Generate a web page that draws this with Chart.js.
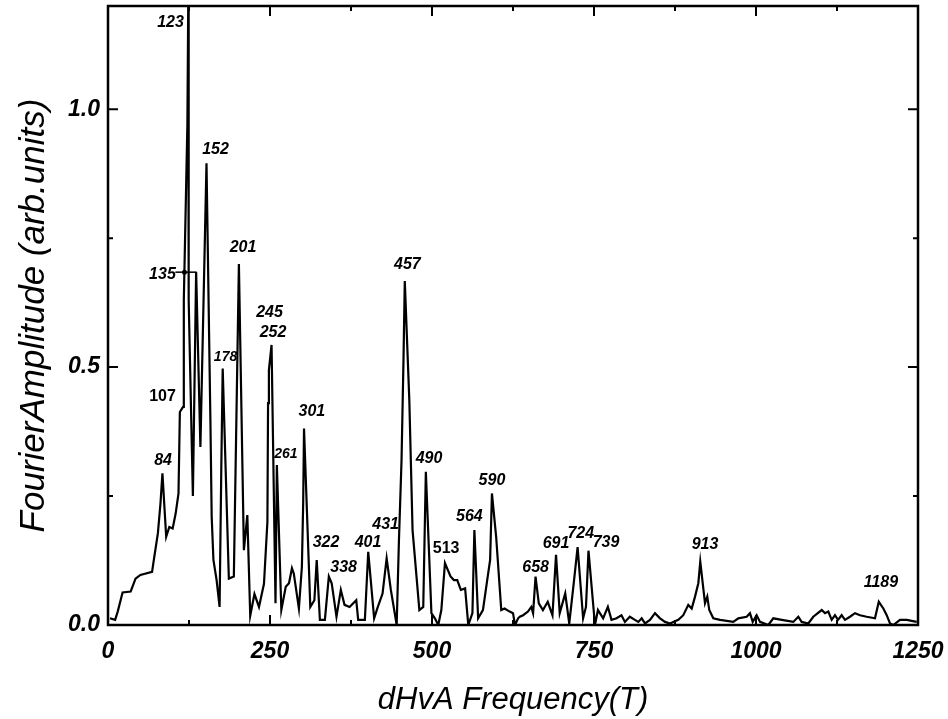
<!DOCTYPE html>
<html>
<head>
<meta charset="utf-8">
<title>dHvA Fourier spectrum</title>
<script src="https://cdn.jsdelivr.net/npm/chart.js@4.4.1/dist/chart.umd.min.js"></script>
<style>
  body { margin: 0; background: #fff; }
  canvas { display: block; }
</style>
</head>
<body>
<canvas id="fft" width="948" height="719"></canvas>
<script>
/*- DATA
-----------------------------------------------------------------------*/
const freqs = [
  3, 11, 15, 22.5, 35, 42.5, 50, 68, 70, 77, 81, 84, 89.8, 94.6, 99.8, 104.4, 108.8, 110.9, 115.8, 117,
  122.5, 123.8, 124.5, 131, 136, 142.6, 152, 158, 160, 162.7, 167.6, 172.2, 174.8, 177, 186.5, 194.2,
  202, 209.7, 215, 219.5, 226, 233, 240.7, 246, 247, 248.3, 252.4, 258.5, 260.6, 267.5, 274.3, 279.3,
  283.9, 286.7, 294.6, 299.2, 301.2, 302.5, 312.2, 318.5, 322.1, 327, 334.7, 340.8, 345.2, 352.6, 359.3,
  365, 372.8, 383.1, 386.1, 396.4, 401.6, 410.7, 416.4, 423.7, 430, 436.5, 445.5, 449, 453, 456, 458,
  465, 470, 480.5, 486.5, 490.5, 499.1, 504.4, 509.7, 514.4, 520, 528.6, 533.8, 539, 544.5, 551.1, 556,
  562.4, 565.4, 571.2, 578.6, 585.2, 589.7, 592.5, 599, 606.9, 612, 619.9, 625, 628.1, 632.9, 635.5,
  640.6, 648.1, 653.2, 656, 659.8, 664.8, 671.2, 678.6, 685.9, 691.4, 697.1, 705.6, 711.8, 719, 724.7,
  733.2, 737.6, 741.5, 751.5, 756.1, 764.1, 771.4, 777, 784.8, 792.4, 797.7, 805.3, 813.1, 818.4, 823.6,
  828.7, 836.4, 844.1, 851.9, 859.6, 867.3, 872.4, 880.1, 887.8, 895.5, 900.8, 905.9, 911, 914, 921.3,
  924.8, 927.9, 934.1, 944.4, 965, 972.7, 985.6, 990.7, 994.9, 1001, 1006.2, 1019, 1026.7, 1039.7,
  1057.6, 1065.3, 1070.5, 1080.7, 1088.4, 1101.4, 1106.5, 1111.6, 1116.8, 1121.9, 1126.5, 1132.2,
  1137.3, 1145, 1152.8, 1160.5, 1170.8, 1183.6, 1189.5, 1196.5, 1201.7, 1206.8, 1211.9, 1222.2, 1232.6, 1248
];
const amps = [
  0.013, 0.01, 0.026, 0.063, 0.065, 0.09, 0.097, 0.103, 0.12, 0.178, 0.236, 0.294, 0.171, 0.19, 0.187, 0.216, 0.255, 0.413, 0.423, 0.63,
  0.97, 1.2, 0.63, 0.25, 0.685, 0.345, 0.895, 0.4, 0.21, 0.126, 0.087, 0.035, 0.3, 0.497, 0.09, 0.094,
  0.70, 0.145, 0.213, 0.018, 0.06, 0.035, 0.08, 0.2, 0.43, 0.494, 0.543, 0.042, 0.31, 0.029, 0.074, 0.081,
  0.11, 0.1, 0.032, 0.113, 0.236, 0.381, 0.035, 0.048, 0.126, 0.01, 0.01, 0.094, 0.081, 0.016, 0.068,
  0.039, 0.035, 0.048, 0.01, 0.01, 0.142, 0.013, 0.035, 0.061, 0.129, 0.068, 0, 0.165, 0.32, 0.514, 0.667,
  0.436, 0.184, 0.029, 0.035, 0.297, 0.023, 0.013, 0, 0.029, 0.12, 0.094, 0.087, 0.087, 0.068, 0.071, 0,
  0.023, 0.184, 0.013, 0.029, 0.087, 0.126, 0.255, 0.171, 0.029, 0.032, 0.026, 0.023, 0, 0.013, 0.016,
  0.019, 0.026, 0.035, 0.023, 0.094, 0.042, 0.029, 0.045, 0.019, 0.136, 0.023, 0.061, 0.003, 0.084, 0.151,
  0.013, 0.035, 0.144, 0, 0.029, 0.013, 0.035, 0.01, 0.013, 0.019, 0.006, 0.016, 0.01, 0.006, 0.013,
  0.003, 0.01, 0.023, 0.013, 0.006, 0.003, 0.006, 0.01, 0.019, 0.039, 0.032, 0.055, 0.081, 0.123, 0.042,
  0.055, 0.029, 0.013, 0.01, 0.006, 0.013, 0.016, 0.023, 0.006, 0.019, 0.006, 0, 0.013, 0.01,
  0.006, 0.016, 0.006, 0.003, 0.016, 0.029, 0.023, 0.026, 0.01, 0.019, 0.01, 0.019,
  0.01, 0.016, 0.023, 0.019, 0.016, 0.013, 0.045, 0.032, 0.019, 0.003, 0, 0.01, 0.01, 0.006
];

// peak annotations: text, frequency and amplitude where the text sits
const peakNames = ['123', '152', '135', '201', '245', '252', '178', '107', '84', '261', '301', '322', '338',
  '401', '431', '457', '490', '513', '564', '590', '658', '691', '724', '739', '913', '1189'];
const peakFreqs = [96.5, 166, 84, 208.3, 249.3, 254.6, 181.4, 84.2, 85, 274.5, 314.6, 336.5, 363.6,
  401.3, 428.4, 462, 495.4, 521.8, 557.7, 592.5, 659.9, 691.4, 729.6, 768.6, 921.4, 1192.8];
const peakAmps = [1.167, 0.921, 0.68, 0.731, 0.605, 0.566, 0.519, 0.442, 0.318, 0.331, 0.413, 0.159, 0.112,
  0.159, 0.194, 0.698, 0.322, 0.149, 0.211, 0.279, 0.112, 0.157, 0.178, 0.159, 0.155, 0.083];

const xTicks = [0, 250, 500, 750, 1000, 1250];
const xMinor = [125, 375, 625, 875, 1125];
const yTicks = [0, 0.5, 1.0];
const yMinor = [0.25, 0.75];

/*- HELPERS
-----------------------------------------------------------------------*/
const FONT = "'Liberation Sans', Arial, Helvetica, sans-serif";
const upright = ['107', '513'];
const small = ['178', '261'];

// frame and inward ticks on all four sides
const framePlugin = {
  id: 'frame',
  afterDraw(chart) {
    const { ctx, chartArea: a, scales: { x, y } } = chart;
    ctx.save();
    ctx.strokeStyle = '#000';
    ctx.lineWidth = 2.5;
    ctx.strokeRect(a.left, a.top, a.right - a.left, a.bottom - a.top);
    ctx.lineWidth = 2;
    const tickX = (v, len) => {
      const px = x.getPixelForValue(v);
      ctx.beginPath();
      ctx.moveTo(px, a.bottom); ctx.lineTo(px, a.bottom - len);
      ctx.moveTo(px, a.top); ctx.lineTo(px, a.top + len);
      ctx.stroke();
    };
    const tickY = (v, len) => {
      const py = y.getPixelForValue(v);
      ctx.beginPath();
      ctx.moveTo(a.left, py); ctx.lineTo(a.left + len, py);
      ctx.moveTo(a.right, py); ctx.lineTo(a.right - len, py);
      ctx.stroke();
    };
    xTicks.forEach(v => tickX(v, 10));
    xMinor.forEach(v => tickX(v, 5));
    yTicks.forEach(v => tickY(v, 10));
    yMinor.forEach(v => tickY(v, 5));
    ctx.restore();
  }
};

// peak labels + the little pointer for 135
const peakPlugin = {
  id: 'peaks',
  afterDatasetsDraw(chart) {
    const { ctx, scales: { x, y } } = chart;
    ctx.save();
    ctx.fillStyle = '#000';
    ctx.textAlign = 'center';
    ctx.textBaseline = 'middle';
    peakNames.forEach((name, i) => {
      const size = small.includes(name) ? 14 : 16;
      const style = upright.includes(name) ? 'bold' : 'italic bold';
      ctx.font = `${style} ${size}px ${FONT}`;
      ctx.fillText(name, x.getPixelForValue(peakFreqs[i]), y.getPixelForValue(peakAmps[i]));
    });
    // pointer from "135" to its peak
    const py = y.getPixelForValue(0.684);
    ctx.strokeStyle = '#000';
    ctx.lineWidth = 1.5;
    ctx.beginPath();
    ctx.moveTo(x.getPixelForValue(104), py);
    ctx.lineTo(x.getPixelForValue(136), py);
    ctx.stroke();
    ctx.beginPath();
    ctx.arc(x.getPixelForValue(118), py, 2.5, 0, Math.PI * 2);
    ctx.fill();
    ctx.restore();
  }
};

/*- CHART
-----------------------------------------------------------------------*/
new Chart(document.getElementById('fft'), {
  type: 'line',
  data: {
    datasets: [{
      data: freqs.map((f, i) => ({ x: f, y: amps[i] })),
      borderColor: '#000',
      borderWidth: 2.2,
      pointRadius: 0,
      tension: 0,
      fill: false
    }]
  },
  options: {
    responsive: false,
    animation: false,
    layout: { padding: { top: 6, right: 30, left: 0, bottom: 0 } },
    plugins: { legend: { display: false }, tooltip: { enabled: false } },
    scales: {
      x: {
        type: 'linear',
        min: 0,
        max: 1250,
        afterBuildTicks: s => { s.ticks = xTicks.map(v => ({ value: v })); },
        afterFit: s => { s.height = 94; s.paddingLeft = 0; s.paddingRight = 0; },
        grid: { display: false, drawTicks: false },
        border: { display: false },
        ticks: {
          color: '#000',
          padding: 13,
          maxRotation: 0,
          autoSkip: false,
          callback: v => String(v),
          font: { family: FONT, size: 23, weight: 'bold', style: 'italic' }
        },
        title: {
          display: true,
          text: 'dHvA Frequency(T)',
          color: '#000',
          padding: { top: 0, bottom: 0 },
          font: { family: FONT, size: 31, style: 'italic', weight: 'normal' }
        }
      },
      y: {
        min: 0,
        max: 1.2,
        afterBuildTicks: s => { s.ticks = yTicks.map(v => ({ value: v })); },
        afterFit: s => { s.width = 108; s.paddingTop = 0; s.paddingBottom = 0; },
        grid: { display: false, drawTicks: false },
        border: { display: false },
        ticks: {
          color: '#000',
          padding: 8,
          callback: v => v.toFixed(1),
          font: { family: FONT, size: 23, weight: 'bold', style: 'italic' }
        },
        title: {
          display: true,
          text: 'FourierAmplitude (arb.units)',
          color: '#000',
          padding: { top: 13, bottom: 0 },
          font: { family: FONT, size: 35, style: 'italic', weight: 'normal' }
        }
      }
    }
  },
  plugins: [framePlugin, peakPlugin]
});
</script>
</body>
</html>
